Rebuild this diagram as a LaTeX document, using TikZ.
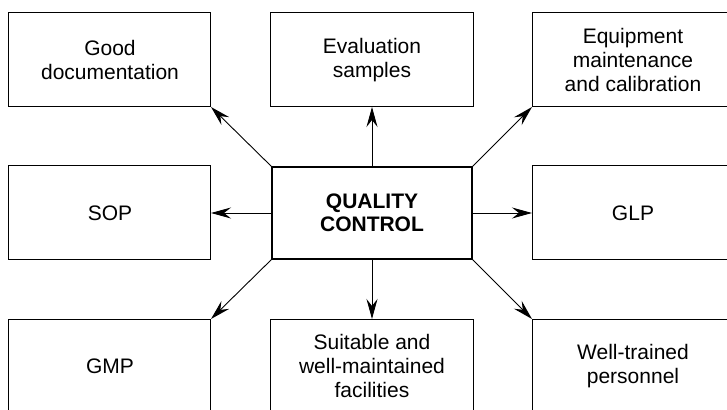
\documentclass[tikz,border=0pt]{standalone}
\usepackage{fontspec}
\setmainfont{Liberation Sans}
\usepackage{tikz}
\usetikzlibrary{arrows.meta,positioning}
\tikzset{
  basic/.style  = {draw, rectangle, align=center, outer sep=0pt,
                   font=\fontsize{21}{24}\selectfont},
  item/.style   = {basic, line width=1pt, minimum width=202pt,
                   minimum height=94pt},
  centre/.style = {basic, line width=2.6pt, minimum width=200pt,
                   minimum height=92pt,
                   font=\fontsize{21}{23.5}\selectfont\bfseries}
}

\begin{document}
\begin{tikzpicture}[
  >={Stealth[length=20pt,width=11pt,inset=7pt]}]

\useasboundingbox (-372pt,-196pt) rectangle (355pt,213pt);

% the central node
\node[centre] (qc) at (0,0) {QUALITY\\CONTROL};

% top row
\node[item, above left=60pt and 61pt of qc] (doc) {Good\\documentation};
\node[item, above=60pt of qc] (eval) {Evaluation\\samples};
\node[item, above right=60pt and 60pt of qc] (equip) {Equipment\\maintenance\\and calibration};

% middle row
\node[item, left=61pt of qc] (sop) {SOP};
\node[item, right=60pt of qc] (glp) {GLP};

% bottom row
\node[item, below left=60pt and 61pt of qc] (gmp) {GMP};
\node[item, below=60pt of qc] (fac) {Suitable and\\well-maintained\\facilities};
\node[item, below right=60pt and 60pt of qc] (staff) {Well-trained\\personnel};

% arrows from the centre to every box
\foreach \from/\target in {north west/doc.south east, north/eval.south,
    north east/equip.south west, west/sop.east, east/glp.west,
    south west/gmp.north east, south/fac.north, south east/staff.north west}
  \draw[->, line width=0.9pt] (qc.\from) -- (\target);
\end{tikzpicture}
\end{document}
